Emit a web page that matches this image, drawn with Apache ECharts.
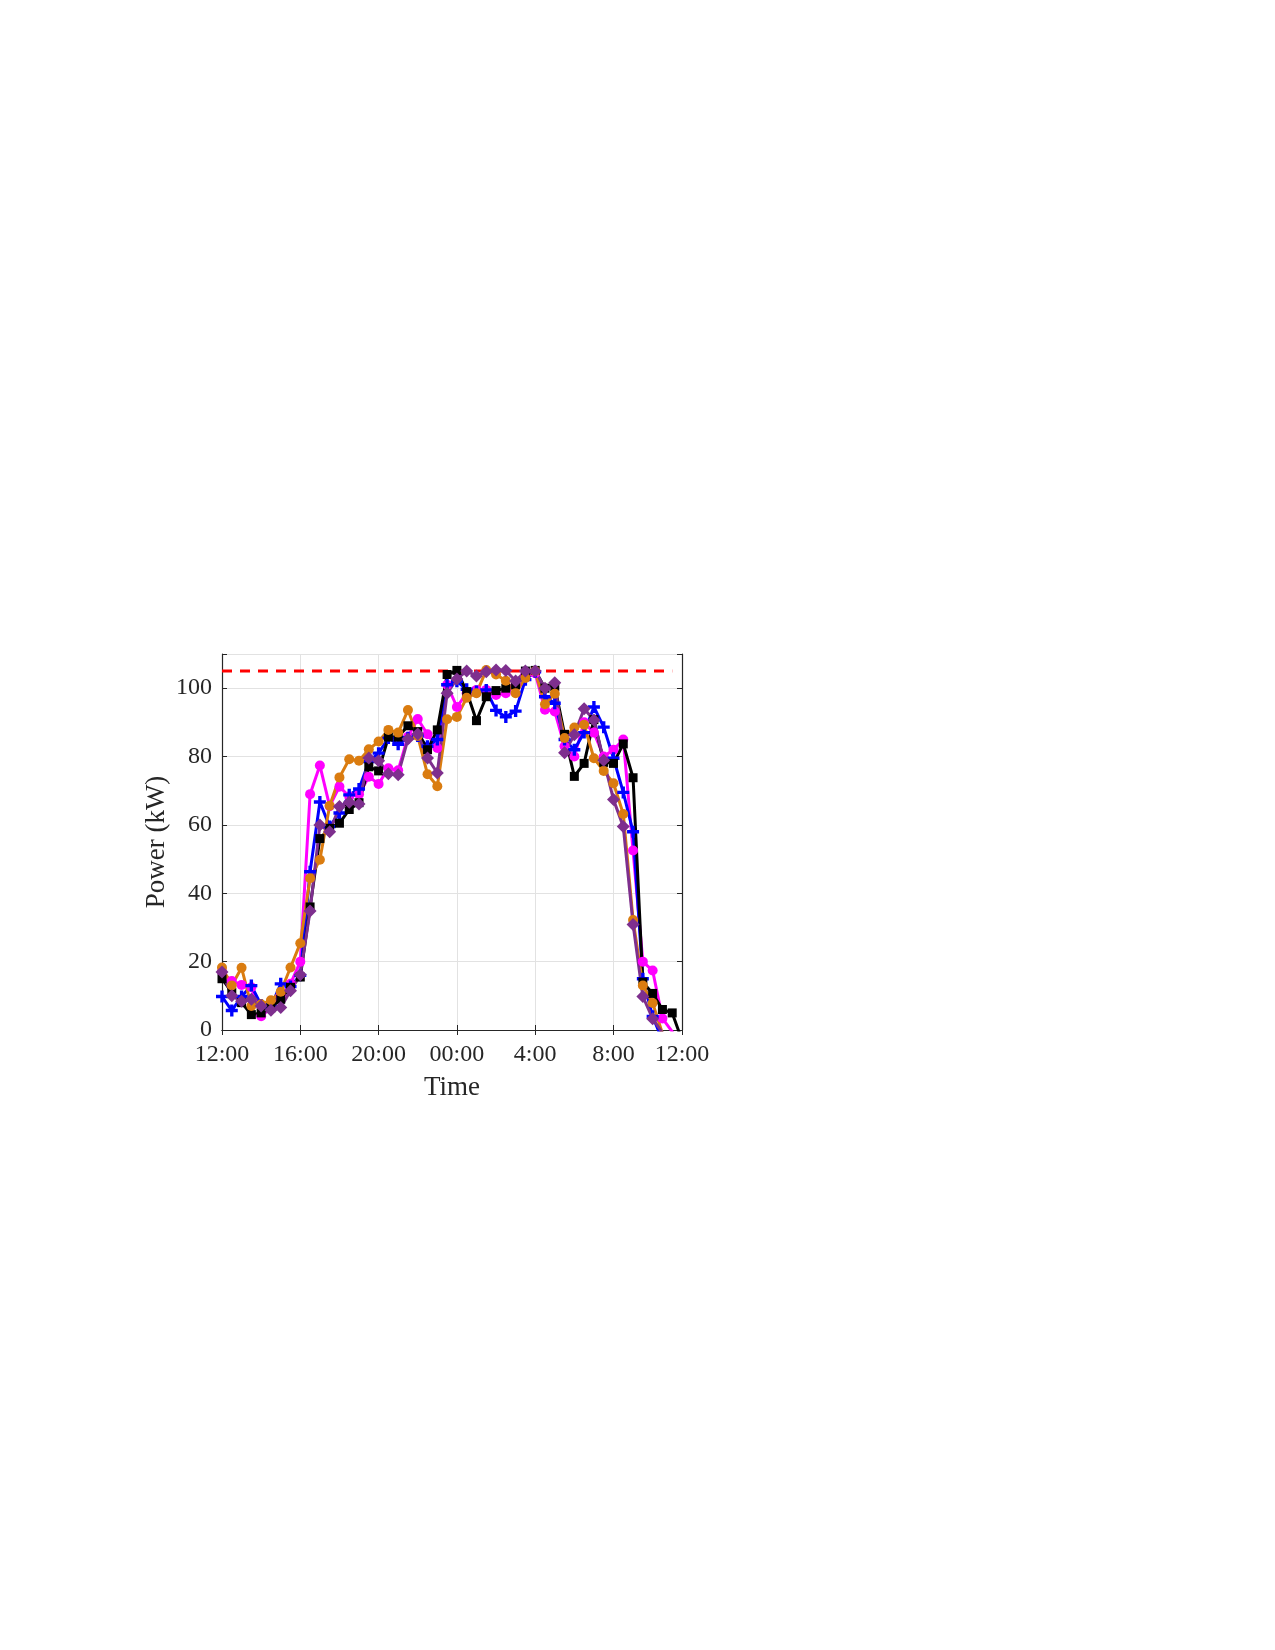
<!DOCTYPE html>
<html>
<head>
<meta charset="utf-8">
<script src="https://cdn.jsdelivr.net/npm/echarts@6/dist/echarts.min.js"></script>
<style>
html,body{margin:0;padding:0;background:#fff;}
#chart{width:1275px;height:1650px;}
</style>
</head>
<body>
<div id="chart"></div>
<script>
// half-hour slots starting at 12:00 (index 0) up to index 47
const slots = Array.from({length: 48}, (_, i) => String(i));
const tickIndex = [0, 8, 16, 24, 32, 40, 47];
const tickLabels = ['12:00', '16:00', '20:00', '00:00', '4:00', '8:00', '12:00'];

const limitValue = 105;
const limitSpan = [0, 46];

const seriesBlue = [9.8, 5.7, 9.8, 13, 7.3, 6.8, 13.5, 12.7, 16, 46.3, 66.7, 59.5, 63.5, 68.8, 70.5, 78.5, 81, 85.4, 83.6, 85.5, 86, 83, 85, 101, 102, 99.7, 99, 99.5, 93.5, 91.6, 93.3, 102.5, 104.8, 97.5, 95.6, 85, 82, 87, 94.5, 88.6, 79.5, 69.5, 58, 15, 4, -3, -8, -12];
const seriesBlack = [15, 11, 8, 4.5, 5, 6.5, 9, 12.5, 15.5, 36, 56, 59, 60.5, 64.5, 66.5, 77, 75.8, 85.7, 85.7, 89, 87.3, 82, 87.8, 104, 105.2, 99, 90.5, 97.5, 99.3, 100, 101, 105, 105.2, 100, 100.5, 86.5, 74.2, 78, 90.8, 78.3, 78, 83.7, 73.8, 14, 10.7, 6, 5, -3];
const seriesMagenta = [17, 14.3, 13.2, 12.5, 4, 6.5, 10, 13.5, 20, 69, 77.4, 65.5, 71.2, 68.3, 69, 74.1, 72, 76.6, 76, 85.8, 91, 86.5, 82.5, 101, 94.5, 98.5, 99.5, 99.5, 98, 98.5, 101, 104, 104.4, 93.7, 93.2, 83, 80, 90, 87, 80, 82, 85, 52.5, 20, 17.4, 3.4, -0.5, -5];
const seriesOrange = [18.3, 13, 18.2, 7, 7.5, 8.7, 11.2, 18.3, 25.4, 44.4, 49.8, 65.6, 73.9, 79.2, 78.8, 82.1, 84.4, 87.8, 87, 93.6, 86, 74.8, 71.3, 90.9, 91.6, 97.2, 98.5, 105.3, 104, 102.2, 98.5, 103, 105, 95.3, 98.4, 85.4, 88.5, 89.3, 79.5, 75.8, 72.2, 63.2, 32.2, 13, 7.9, -1, -11, -20];
const seriesPurple = [17, 10, 8.4, 9, 7, 5.8, 6.6, 11.5, 16.2, 34.8, 60, 58, 65.4, 66.6, 66.1, 79.6, 78.8, 75, 74.7, 85.1, 86.6, 79.6, 75.2, 98.5, 102.7, 105, 103.6, 104.8, 105.3, 105.2, 102.1, 105, 105, 100, 101.6, 81.1, 86.4, 94, 90.7, 78.9, 67.4, 59.5, 30.9, 9.8, 3.3, -0.8, -10, -18];

const yTicks = [0, 20, 40, 60, 80, 100];

const plusPath = 'path://M3.6,0 L6.4,0 L6.4,3.6 L10,3.6 L10,6.4 L6.4,6.4 L6.4,10 L3.6,10 L3.6,6.4 L0,6.4 L0,3.6 L3.6,3.6 Z';
const FONT = '"Liberation Serif", "Times New Roman", serif';
const AX = '#262626';

const isTick = (idx) => tickIndex.indexOf(Number(idx)) >= 0;

function mk(name, data, color, symbol, size) {
  return {
    name, type: 'line', data, clip: true,
    showAllSymbol: true,
    symbol, symbolSize: size,
    lineStyle: {color, width: 3},
    itemStyle: {color, borderColor: color, borderWidth: 0},
    emphasis: {disabled: true}
  };
}

const chart = echarts.init(document.getElementById('chart'), null, {renderer: 'canvas'});
chart.setOption({
  animation: false,
  backgroundColor: '#fff',
  grid: {left: 222, right: 593, top: 654, bottom: 620, show: false},
  xAxis: [{
    type: 'category', data: slots, boundaryGap: false, position: 'bottom',
    name: 'Time', nameLocation: 'middle', nameGap: 44,
    nameTextStyle: {fontFamily: FONT, fontSize: 27, color: AX},
    axisLine: {lineStyle: {color: AX, width: 1.2}},
    axisTick: {inside: true, length: 5, interval: (i) => isTick(i), lineStyle: {color: AX}},
    axisLabel: {interval: (i) => isTick(i), margin: 13, fontFamily: FONT, fontSize: 24, color: AX,
      formatter: (v) => tickLabels[tickIndex.indexOf(Number(v))]},
    splitLine: {show: true, interval: (i) => isTick(i), lineStyle: {color: '#e2e2e2', width: 1}}
  }, {
    type: 'category', data: slots, boundaryGap: false, position: 'top',
    axisLine: {lineStyle: {color: AX, width: 1.2}},
    axisTick: {inside: true, length: 5, interval: (i) => isTick(i), lineStyle: {color: AX}},
    axisLabel: {show: false}, splitLine: {show: false}
  }],
  yAxis: [{
    type: 'value', min: 0, max: 110, interval: 20, position: 'left',
    name: 'Power (kW)', nameLocation: 'middle', nameGap: 52, nameRotate: 90,
    nameTextStyle: {fontFamily: FONT, fontSize: 27, color: AX},
    axisLine: {show: true, lineStyle: {color: AX, width: 1.2}},
    axisTick: {show: true, inside: true, length: 5, lineStyle: {color: AX}},
    axisLabel: {margin: 10, fontFamily: FONT, fontSize: 24, color: AX,
      formatter: (v) => (yTicks.indexOf(v) >= 0 ? String(v) : '')},
    splitLine: {show: true, lineStyle: {color: '#e2e2e2', width: 1}}
  }, {
    type: 'value', min: 0, max: 110, interval: 20, position: 'right',
    axisLine: {show: true, lineStyle: {color: AX, width: 1.2}},
    axisTick: {show: true, inside: true, length: 5, lineStyle: {color: AX}},
    axisLabel: {show: false}, splitLine: {show: false}
  }],
  series: [
    {
      name: 'limit', type: 'line', symbol: 'none',
      data: limitSpan.map((i) => [i, limitValue]),
      lineStyle: {color: '#ff0000', width: 3, type: [10, 8]},
      emphasis: {disabled: true}, z: 1
    },
    mk('magenta', seriesMagenta, '#ff00ff', 'circle', 10),
    mk('blue', seriesBlue, '#0000ff', plusPath, 12),
    mk('black', seriesBlack, '#000000', 'rect', 9),
    mk('orange', seriesOrange, '#da7c10', 'circle', 10),
    mk('purple', seriesPurple, '#7e2f8e', 'diamond', 13)
  ]
});
</script>
</body>
</html>
